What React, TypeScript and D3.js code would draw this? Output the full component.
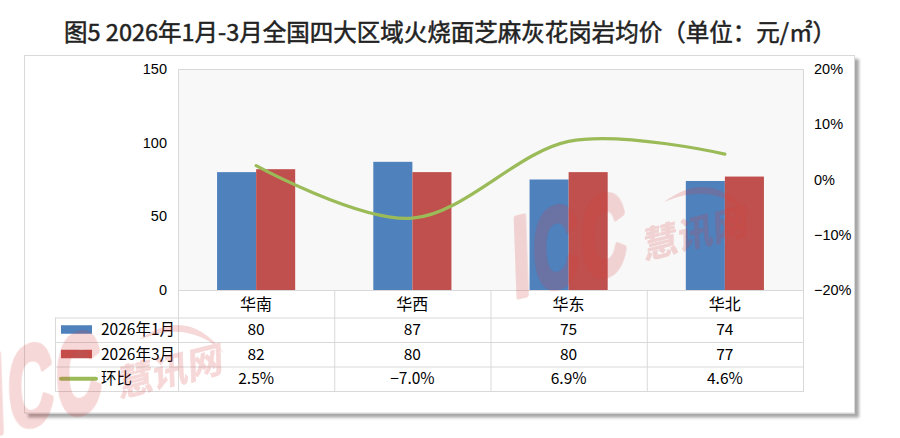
import React from "react";
import * as d3 from "d3";

const regions = ["华南", "华西", "华东", "华北"];
const seriesNames = ["2026年1月", "2026年3月", "环比"];
const jan = [80, 87, 75, 74];
const mar = [82, 80, 80, 77];
const mom = [0.025, -0.07, 0.069, 0.046];
const leftTicks = [0, 50, 100, 150];
const rightTicks = [-0.2, -0.1, 0, 0.1, 0.2];
const title = "图5 2026年1月-3月全国四大区域火烧面芝麻灰花岗岩均价（单位：元/㎡）";

const W = 900;
const H = 438;
const BLUE = "#4f81bd";
const RED = "#c0504d";
const GREEN = "#9bbb59";
const GRID = "#d9d9d9";
const CJK = "'Noto Sans CJK SC', 'Noto Sans', sans-serif";
const LAT = "'Liberation Sans', Arial, sans-serif";
const WM = "#d63c3c";

function Watermark({ dx, dy }: { dx: number; dy: number }) {
  return (
    <g transform={`translate(${dx},${dy})`} opacity={0.2} pointerEvents="none">
      <g transform="translate(514,298) rotate(-14) skewX(-12)" fill={WM} stroke={WM} strokeLinejoin="round">
        <text x={0} y={0} fontFamily={LAT} fontWeight="bold" fontSize={110}
          transform="scale(0.58,1)" letterSpacing={6} strokeWidth={6}>ICC</text>
        <text x={134} y={-6} fontFamily={CJK} fontWeight="bold" fontSize={36} strokeWidth={0.6}>慧讯网</text>
      </g>
      <path d="M664,202 Q712,166 750,216 Q714,180 664,202 Z" fill={WM} />
    </g>
  );
}

export default function App() {
  const left = 178, right = 803, top = 69, bottom = 290;
  const x = d3.scaleBand<string>().domain(regions).range([left, right]);
  const bw = x.bandwidth();
  const inner = d3.scaleBand<string>().domain(["a", "b"]).range([bw * 0.25, bw * 0.75]);
  const yL = d3.scaleLinear().domain([0, 150]).range([bottom, top]);
  const yR = d3.scaleLinear().domain([-0.2, 0.2]).range([bottom, top]);
  const fmtPct = d3.format(".1%");
  const fmtTick = d3.format(".0%");

  const line = d3
    .line<number>()
    .x((_, i) => (x(regions[i]) as number) + bw / 2)
    .y((d) => yR(d))
    .curve(d3.curveCardinal.tension(0));

  const tableLeft = 55;
  const rowY = [290, 317.5, 342, 366.5, 391];
  const colX = [left, ...regions.map((r) => (x(r) as number) + bw)];
  const rows = [
    { name: seriesNames[0], vals: jan.map(String), key: "bar", color: BLUE },
    { name: seriesNames[1], vals: mar.map(String), key: "bar", color: RED },
    { name: seriesNames[2], vals: mom.map(fmtPct), key: "line", color: GREEN },
  ];

  return (
    <svg width={W} height={H} style={{ position: "absolute", left: 0, top: 0, background: "#fff" }}>
      <defs>
        <filter id="sh" x="-5%" y="-5%" width="110%" height="115%">
          <feDropShadow dx="4" dy="4" stdDeviation="1.5" floodColor="#000" floodOpacity="0.35" />
        </filter>
      </defs>
      <text x={450} y={41} textAnchor="middle" fontFamily={CJK} fontSize={23.5} fill="#222"
        stroke="#222" strokeWidth={0.5}>
        {title}
      </text>
      <rect x={24.5} y={55.5} width={830} height={357.5} fill="#fff" stroke={GRID} filter="url(#sh)" />
      <rect x={left + 0.5} y={top + 0.5} width={right - left} height={bottom - top} fill="#f8f8f8" stroke={GRID} />

      {regions.map((r, i) => (
        <g key={r}>
          <rect x={(x(r) as number) + (inner("a") as number)} y={yL(jan[i])} width={inner.bandwidth()}
            height={bottom - yL(jan[i])} fill={BLUE} />
          <rect x={(x(r) as number) + (inner("b") as number)} y={yL(mar[i])} width={inner.bandwidth()}
            height={bottom - yL(mar[i])} fill={RED} />
        </g>
      ))}
      <path d={line(mom) || ""} fill="none" stroke={GREEN} strokeWidth={3.2} strokeLinecap="round" />

      {leftTicks.map((t) => (
        <text key={t} x={167} y={yL(t) + 5} textAnchor="end" fontFamily={LAT} fontSize={14.5} fill="#000">
          {t}
        </text>
      ))}
      {rightTicks.map((t) => (
        <text key={t} x={814} y={yR(t) + 5} textAnchor="start" fontFamily={LAT} fontSize={14.5} fill="#000">
          {fmtTick(t)}
        </text>
      ))}

      {/* table */}
      <g stroke={GRID} strokeWidth={1}>
        {colX.map((cx, i) => (
          <line key={"v" + i} x1={cx + 0.5} x2={cx + 0.5} y1={rowY[0]} y2={rowY[4]} />
        ))}
        <line x1={tableLeft + 0.5} x2={tableLeft + 0.5} y1={rowY[1]} y2={rowY[4]} />
        <line x1={left} x2={right + 1} y1={rowY[0] + 0.5} y2={rowY[0] + 0.5} />
        {rowY.slice(1).map((ry, i) => (
          <line key={"h" + i} x1={tableLeft} x2={right + 1} y1={ry + 0.5} y2={ry + 0.5} />
        ))}
      </g>
      {regions.map((r) => (
        <text key={r} x={(x(r) as number) + bw / 2} y={rowY[0] + 20} textAnchor="middle" fontFamily={CJK}
          fontSize={16} fill="#000">
          {r}
        </text>
      ))}
      {rows.map((row, ri) => {
        const y0 = rowY[ri + 1];
        const y1 = rowY[ri + 2];
        const cy = (y0 + y1) / 2;
        return (
          <g key={row.name}>
            {row.key === "bar" ? (
              <rect x={61} y={cy - 4.5} width={31} height={8.5} fill={row.color} />
            ) : (
              <line x1={61} x2={96} y1={cy} y2={cy} stroke={row.color} strokeWidth={4} strokeLinecap="round" />
            )}
            <text x={101} y={cy + 5.5} fontFamily={CJK} fontSize={15.5} fill="#000">
              {row.name}
            </text>
            {row.vals.map((v, i) => (
              <text key={i} x={(x(regions[i]) as number) + bw / 2} y={cy + 5.5} textAnchor="middle"
                fontFamily={CJK} fontSize={15.5} fill="#000">
                {v}
              </text>
            ))}
          </g>
        );
      })}

      <Watermark dx={0} dy={0} />
      <Watermark dx={-525} dy={138} />
    </svg>
  );
}
